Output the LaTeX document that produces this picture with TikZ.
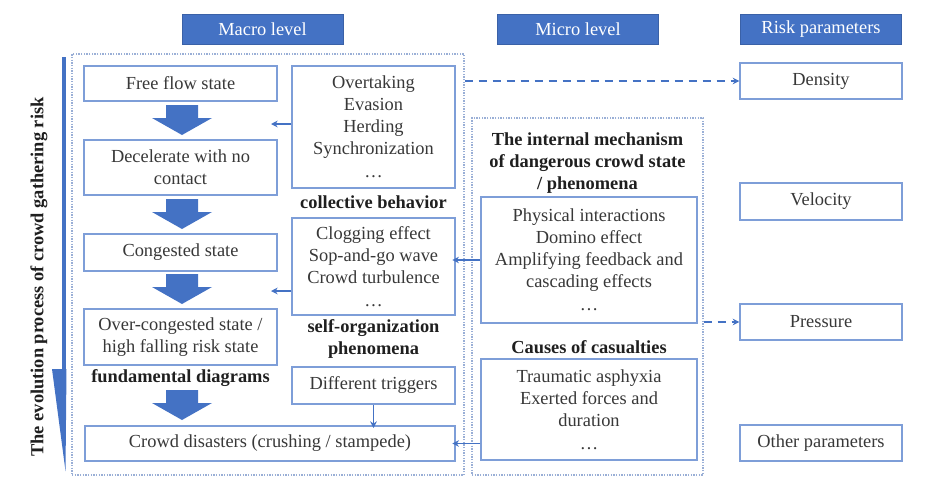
\documentclass[tikz,border=0pt]{standalone}
\usepackage{fontspec}
\setmainfont{Liberation Serif}
\usetikzlibrary{arrows.meta}
\definecolor{hdr}{HTML}{4472C4}
\definecolor{bline}{HTML}{7E9ED8}
\definecolor{dotc}{HTML}{9AAFD6}
\definecolor{txt}{HTML}{383838}
\begin{document}
\begin{tikzpicture}[x=0.75pt,y=-0.75pt,
  font=\fontsize{13.8}{16.5}\selectfont,
  box/.style={draw=bline, line width=1pt, fill=white, text=txt, align=center, inner sep=0pt},
  hdrbox/.style={fill=hdr, draw=hdr!85!black, line width=0.6pt, text=white, inner sep=0pt,
    minimum width=161*0.75pt, minimum height=30*0.75pt},
  lbl/.style={font=\fontsize{13.8}{16.5}\selectfont\bfseries, text=black!88, align=center, inner sep=0pt},
  dotbox/.style={draw=dotc, line width=0.8pt, dash pattern=on 1pt off 1pt, inner sep=0pt},
  conn/.style={draw=hdr, line width=1.1pt, -{Stealth[length=5pt,width=5pt]}},
  dconn/.style={conn, dash pattern=on 6pt off 4.5pt},
  blockdown/.pic={\fill[hdr] (-16,0) -- (16,0) -- (16,13) -- (30,13) -- (0,30) -- (-30,13) -- (-16,13) -- cycle;}
]
\useasboundingbox (0,0) rectangle (925,482);

% headers
\node[hdrbox] (hmacro) at (262.5,29) {Macro level};
\node[hdrbox] (hmicro) at (578,29) {Micro level};
\node[hdrbox] (hrisk) at (821,29) {Risk parameters};

% outer dotted boxes
\node[dotbox, minimum width=392*0.75pt, minimum height=421*0.75pt] (macro) at (268,264.5) {};
\node[dotbox, minimum width=231*0.75pt, minimum height=357*0.75pt] (micro) at (587.5,296.5) {};

% evolution arrow
\fill[hdr] (62,57) rectangle (66,370);
\fill[hdr] (52,369) -- (66.5,369) -- (65.5,471) -- cycle;
\node[lbl, rotate=90] (evo) at (39,277) {The evolution process of crowd gathering risk};

% left column
\node[box, minimum width=193*0.75pt, minimum height=35*0.75pt] (free) at (180.5,83.5) {Free flow state};
\node[box, minimum width=193*0.75pt, minimum height=55*0.75pt] (decel) at (180.5,167.5) {Decelerate with no\\contact};
\node[box, minimum width=193*0.75pt, minimum height=37*0.75pt] (cong) at (180.5,252.5) {Congested state};
\node[box, minimum width=193*0.75pt, minimum height=56*0.75pt] (over) at (180.5,337) {Over-congested state /\\high falling risk state};
\node[lbl] (fund) at (180.5,378) {fundamental diagrams};
\node[box, minimum width=370*0.75pt, minimum height=35*0.75pt] (crowd) at (270,443.5) {Crowd disasters (crushing / stampede)};

\pic at (182,105) {blockdown};
\pic at (182,199) {blockdown};
\pic at (182,274) {blockdown};
\pic at (182,390) {blockdown};

% middle column (macro)
\node[box, minimum width=163*0.75pt, minimum height=122*0.75pt] (coll) at (373.5,127) {Overtaking\\Evasion\\Herding\\Synchronization\\[1pt]…};
\node[lbl] (colllbl) at (373.5,202) {collective behavior};
\node[box, minimum width=163*0.75pt, minimum height=97*0.75pt] (self) at (373.5,266.5) {Clogging effect\\Sop-and-go wave\\Crowd turbulence\\[1pt]…};
\node[lbl] (selflbl) at (373.5,339) {self-organization\\phenomena};
\node[box, minimum width=163*0.75pt, minimum height=37*0.75pt] (trig) at (373.5,385.5) {Different triggers};

% micro column
\node[lbl] (mtitle) at (587.5,163) {The internal mechanism\\of dangerous crowd state\\/ phenomena};
\node[box, minimum width=216*0.75pt, minimum height=126*0.75pt] (phys) at (589,260) {Physical interactions\\Domino effect\\Amplifying feedback and\\cascading effects\\[1pt]…};
\node[lbl] (cause) at (589,347) {Causes of casualties};
\node[box, minimum width=216*0.75pt, minimum height=101*0.75pt] (traum) at (589,409.5) {Traumatic asphyxia\\Exerted forces and\\duration\\[1pt]…};

% risk parameters
\node[box, minimum width=162*0.75pt, minimum height=36*0.75pt] (dens) at (821,81) {Density};
\node[box, minimum width=162*0.75pt, minimum height=37*0.75pt] (velo) at (821,201.5) {Velocity};
\node[box, minimum width=162*0.75pt, minimum height=36*0.75pt] (pres) at (821,322) {Pressure};
\node[box, minimum width=162*0.75pt, minimum height=36*0.75pt] (other) at (821,443) {Other parameters};

% connectors
\coordinate (c1) at (271,124);
\coordinate (c2) at (271,291);
\draw[conn] (coll.west |- c1) -- (c1);
\draw[conn] (self.west |- c2) -- (c2);
\draw[conn] (trig.south) -- ([yshift=-2pt]trig.south |- crowd.north);
\draw[conn, shorten >=-2.5pt] (phys.west) -- (phys.west -| self.east);
\draw[conn, shorten >=-2.5pt] (traum.west |- crowd.east) -- (crowd.east);
\draw[dconn] (dens.west -| macro.east) -- (dens.west);
\draw[dconn] (pres.west -| micro.east) -- (pres.west);
\end{tikzpicture}
\end{document}
